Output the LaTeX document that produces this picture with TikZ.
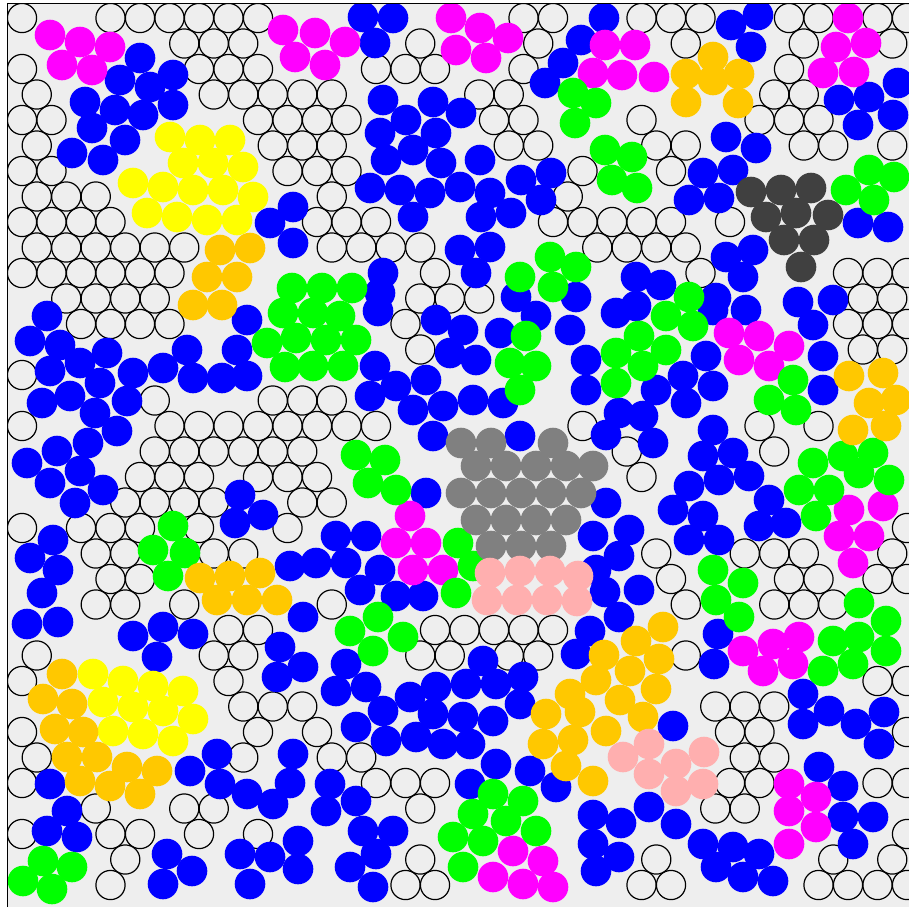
\documentclass[tikz,border=0pt]{standalone}
\definecolor{colB}{RGB}{0,0,255}
\definecolor{colM}{RGB}{255,0,255}
\definecolor{colY}{RGB}{255,255,0}
\definecolor{colO}{RGB}{255,200,0}
\definecolor{colG}{RGB}{0,255,0}
\definecolor{colA}{RGB}{128,128,128}
\definecolor{colD}{RGB}{64,64,64}
\definecolor{colP}{RGB}{255,175,175}
\definecolor{bgc}{RGB}{238,238,238}
\tikzset{
  wcirc/.style={draw=black,line width=0.6pt},
  frameline/.style={draw=black,line width=0.8pt}
}
\def\LB{140/58,173/75,120/80,150/87,85/102,115/110,143/115,173/105,92/128,125/140,72/153,103/160,%
363/17,393/18,375/43,604/18,581/40,563/63,545/83,731/25,758/15,751/47,%
839/100,869/97,898/83,858/125,893/115,726/137,756/148,703/173,733/170,689/200,719/198,%
858/223,888/227,726/257,753/250,743/277,636/277,661/285,716/298,798/302,833/300,813/325,%
270/223,293/207,293/243,%
383/100,433/102,461/113,406/120,380/133,436/133,413/150,386/160,441/163,480/160,370/188,400/190,430/193,460/187,490/193,521/180,551/173,413/217,481/217,511/213,541/200,460/250,490/247,476/273,383/273,380/293,516/297,576/297,%
47/316,30/341,60/345,50/371,80/363,107/353,133/373,163/368,187/350,193/378,222/378,247/376,237/350,247/320,42/403,70/396,100/383,127/401,95/413,117/431,88/443,57/451,27/463,80/471,50/483,103/490,75/503,%
240/495,263/515,235/523,53/540,30/558,58/570,42/593,290/566,%
378/311,436/320,463/330,500/333,450/353,476/360,375/366,426/380,370/396,396/386,413/410,443/406,473/400,503/403,433/436,520/436,536/316,570/330,586/360,586/390,606/435,%
426/493,336/536,366/536,316/563,346/563,380/570,360/590,396/596,423/596,606/503,593/536,596/570,605/592,%
616/313,636/306,713/310,746/310,706/356,683/376,713/386,656/390,686/403,619/413,643/416,653/443,713/430,703/456,733/453,689/486,719/480,749/476,769/500,673/510,703/516,759/526,786/523,689/540,719/540,629/530,619/556,639/590,823/356,823/390,%
27/624,58/622,133/636,163/627,193/634,157/657,280/647,277/677,217/754,190/771,220/784,247/794,273/804,293/754,290/783,50/784,67/811,47/831,77/837,167/854,192/871,163/884,240/854,270/857,250/884,298/841,298/869,%
590/631,576/654,303/617,346/664,303/667,336/691,366/687,383/711,410/697,436/687,466/684,483/661,523/677,496/684,356/727,386/741,416/737,443/744,463/717,493/721,520/704,433/714,470/744,496/764,470/784,530/771,556/787,330/784,326/811,356/801,363/831,393/831,376/854,350/867,373/887,593/815,593/844,596/871,%
619/617,718/634,714/664,673/726,803/694,829/711,803/724,856/724,884/712,879/744,819/767,843/786,843/817,873/817,853/844,649/807,621/823,676/824,619/857,703/844,733/847,759/854,716/867,743/877,773/881}
\def\LM{50/35,80/42,110/47,62/65,92/70,283/30,315/33,345/42,295/57,325/65,451/18,480/28,508/38,456/50,486/58,%
605/45,635/45,593/73,622/75,654/77,848/18,836/47,866/43,823/73,854/72,729/333,759/336,789/346,739/360,769/366,%
410/516,396/543,426/543,413/570,443/570,849/510,883/506,839/536,869/536,853/563,%
513/851,543/861,493/877,523/884,553/887,743/651,773/644,799/637,763/671,793/664,789/784,816/797,789/811,816/827,789/844}
\def\LG{573/93,596/103,575/123,605/150,632/157,612/180,637/188,869/170,894/177,846/190,874/200,%
520/277,550/257,576/267,553/287,526/336,510/363,536/366,520/390,356/455,385/460,368/483,396/490,%
173/526,153/550,185/553,168/576,350/631,378/617,403/637,373/651,43/861,72/867,23/881,52/889,%
793/380,769/400,796/410,458/543,473/566,456/593,713/570,743/583,716/600,739/617,%
859/603,886/621,833/641,859/637,886/651,823/671,853/664,%
689/297,666/316,693/326,639/336,666/350,616/353,643/366,616/383,%
813/463,843/456,873/453,799/490,829/490,859/473,889/480,816/516,%
493/794,523/801,473/814,506/821,536/831,453/837,483/841,463/867,%
292/288,322/288,352/288,283/313,313/313,340/316,267/343,296/338,326/340,356/340,285/367,313/366,343/366}
\def\LY{170/137,200/140,230/140,183/163,213/163,243/167,133/183,163/187,193/190,223/190,253/197,147/213,177/217,207/220,237/220,%
93/674,123/681,153/686,183/691,103/702,133/707,163/711,193/719,113/731,143/734,173/741}
\def\LO{713/57,686/74,739/74,713/80,686/102,738/103,220/250,250/248,207/277,237/277,193/305,222/305,%
849/376,883/373,869/403,896/400,853/430,886/426,200/578,230/576,260/573,217/600,247/600,277/600,%
62/674,43/699,72/704,55/729,83/732,67/757,97/757,127/767,157/771,80/781,110/786,140/794,%
604/655,596/680,570/694,546/714,580/712,543/744,573/740,606/731,566/766,593/781,663/627,636/641,659/659,630/671,656/689,620/700,643/717}
\def\LA{461/443,491/443,553/443,476/466,506/466,536/466,566/466,593/466,461/493,491/493,521/493,551/493,581/493,476/520,506/520,536/520,566/520,491/546,521/546,551/546}
\def\LD{751/192,781/190,811/188,766/217,796/213,828/215,784/240,814/240,801/267}
\def\LP{490/573,520/571,550/571,578/576,487/600,517/600,547/600,577/601,%
649/744,623/757,676/764,704/752,649/774,703/784,676/791}
\newcommand\markcells[1]{%
  \foreach \cx/\cy in #1 {%
    \pgfmathtruncatemacro\mjz{round((\cy-18)/25.5)}%
    \foreach \dj in {-1,0,1} {%
      \pgfmathtruncatemacro\mj{\mjz+\dj}%
      \pgfmathsetmacro\mo{isodd(\mj)*14.75}%
      \pgfmathtruncatemacro\miz{round((\cx-22-\mo)/29.5)}%
      \foreach \di in {-1,0,1} {%
        \pgfmathtruncatemacro\mi{\miz+\di}%
        \pgfmathsetmacro\md{(22+\mo+29.5*\mi-\cx)^2+(18+25.5*\mj-\cy)^2}%
        \ifdim\md pt<625pt\relax\expandafter\gdef\csname mk@\mi @\mj\endcsname{1}\fi
      }%
    }%
  }%
}
\newcommand\placecolored[2]{%
  \foreach \cx/\cy in #2 {\fill[fill=#1] (\cx,\cy) circle[radius=7.65pt];}%
}
\begin{document}
\begin{tikzpicture}[x=0.5pt,y=-0.5pt]
\useasboundingbox (0,0) rectangle (909,907);
\fill[white] (0,0) rectangle (909,907);
\fill[bgc] (7.5,3.5) rectangle (909,907);
\markcells\LB
\markcells\LM
\markcells\LG
\markcells\LY
\markcells\LO
\markcells\LA
\markcells\LD
\markcells\LP
\begin{scope}
\clip (8,4) rectangle (909,907);
\foreach \wj in {0,...,34} {%
  \pgfmathsetmacro\wo{isodd(\wj)*14.75}%
  \pgfmathtruncatemacro\wimax{30-isodd(\wj)}%
  \foreach \wi in {0,...,\wimax} {%
    \ifcsname mk@\wi @\wj\endcsname\else
      \draw[wcirc] ({22+\wo+29.5*\wi},{18+25.5*\wj}) circle[radius=7.3pt];
    \fi
  }%
}
\placecolored{colB}\LB
\placecolored{colM}\LM
\placecolored{colG}\LG
\placecolored{colY}\LY
\placecolored{colO}\LO
\placecolored{colA}\LA
\placecolored{colD}\LD
\placecolored{colP}\LP
\end{scope}
\draw[frameline] (7.5,907) -- (7.5,3.5) -- (909,3.5);
\end{tikzpicture}
\end{document}
